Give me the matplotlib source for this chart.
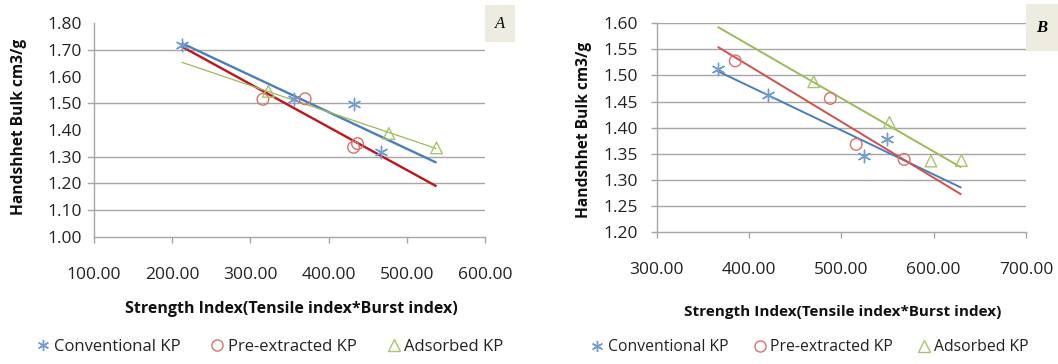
import numpy as np
import matplotlib
matplotlib.use('Agg')
import matplotlib.pyplot as plt
from matplotlib.lines import Line2D
from matplotlib.patches import Rectangle

plt.rcParams['font.family'] = ['Open Sans', 'DejaVu Sans']

# ---- data ----
series_names = ["Conventional KP", "Pre-extracted KP", "Adsorbed KP"]

conv_a_x = [212, 356, 432, 467]
conv_a_y = [1.720, 1.518, 1.497, 1.317]
pre_a_x = [316, 370, 432, 437]
pre_a_y = [1.515, 1.517, 1.335, 1.349]
ads_a_x = [323, 477, 538]
ads_a_y = [1.545, 1.387, 1.333]

conv_b_x = [366, 420, 524, 549]
conv_b_y = [1.512, 1.463, 1.346, 1.378]
pre_b_x = [385, 488, 516, 568]
pre_b_y = [1.528, 1.456, 1.368, 1.339]
ads_b_x = [470, 552, 597, 630]
ads_b_y = [1.488, 1.410, 1.336, 1.337]

xticks_a = [100, 200, 300, 400, 500, 600]
yticks_a = [1.0, 1.1, 1.2, 1.3, 1.4, 1.5, 1.6, 1.7, 1.8]
grid_a = [1.1, 1.2, 1.3, 1.5, 1.7]      # only these rules survive in the scan
xticks_b = [300, 400, 500, 600, 700]
yticks_b = [1.20, 1.25, 1.30, 1.35, 1.40, 1.45, 1.50, 1.55, 1.60]

# ---- styles ----
c_blue, c_blue_m = '#4A7EBB', '#6F9BD1'
c_red_a, c_red_b, c_red_m = '#C0141B', '#D0504D', '#D9706C'
c_green, c_green_m = '#9BBB59', '#A9C46D'
grid_c = '#A6A6A6'
asterisk = (6, 2, 0)
tick_fs = 12.5

W, H = 1058, 364
fig = plt.figure(figsize=(W / 100, H / 100), dpi=100)


def px(x0, y0, x1, y1):
    return [x0 / W, 1 - y1 / H, (x1 - x0) / W, (y1 - y0) / H]


def trend(ax, xs, ys, xr, color, lw):
    k, b = np.polyfit(xs, ys, 1)
    xx = np.array(xr)
    ax.plot(xx, k * xx + b, color=color, lw=lw, zorder=2, solid_capstyle='butt')


def setup(ax, xlim, ylim, xticks, yticks, grid_levels, ylen):
    ax.set_xlim(*xlim)
    ax.set_ylim(*ylim)
    ax.set_xticks(xticks)
    ax.set_xticklabels([f"{v:.2f}" for v in xticks])
    ax.set_yticks(yticks)
    ax.set_yticklabels([f"{v:.2f}" for v in yticks])
    for s in ['top', 'right']:
        ax.spines[s].set_visible(False)
    for s in ['left', 'bottom']:
        ax.spines[s].set_color(grid_c)
        ax.spines[s].set_linewidth(1.0)
    ax.tick_params(axis='x', length=4.5, width=1.0, color=grid_c, pad=17,
                   labelsize=tick_fs, labelcolor='#222222')
    ax.tick_params(axis='y', length=ylen, width=1.0, color=grid_c, pad=9,
                   labelsize=tick_fs, labelcolor='#222222')
    for g in grid_levels:
        ax.axhline(g, color=grid_c, lw=1.0, zorder=1)


# ---- panel A ----
axa = fig.add_axes(px(94, 23.3, 485, 236.7))
setup(axa, (100, 600), (1.0, 1.8), xticks_a, yticks_a, grid_a, 0)
for g in grid_a:
    axa.plot([-0.016, 0], [g, g], transform=axa.get_yaxis_transform(),
             color=grid_c, lw=1.0, clip_on=False)
xr_a = [min(conv_a_x + pre_a_x + ads_a_x), max(conv_a_x + pre_a_x + ads_a_x)]
trend(axa, conv_a_x, conv_a_y, xr_a, c_blue, 1.7)
trend(axa, pre_a_x, pre_a_y, xr_a, c_red_a, 1.7)
trend(axa, ads_a_x, ads_a_y, xr_a, c_green, 0.9)
axa.scatter(conv_a_x, conv_a_y, marker=asterisk, s=80, color=c_blue_m, lw=1.0, zorder=3)
axa.scatter(pre_a_x, pre_a_y, marker='o', s=70, facecolor='none', edgecolor=c_red_m, lw=1.0, zorder=3)
axa.scatter(ads_a_x, ads_a_y, marker='^', s=70, facecolor='none', edgecolor=c_green_m, lw=1.0, zorder=3)

# ---- panel B ----
axb = fig.add_axes(px(656.8, 23.3, 1026, 232))
setup(axb, (300, 700), (1.2, 1.6), xticks_b, yticks_b, yticks_b[1:], 4.5)
xr_b = [min(conv_b_x + pre_b_x + ads_b_x), max(conv_b_x + pre_b_x + ads_b_x)]
trend(axb, conv_b_x, conv_b_y, xr_b, c_blue, 1.4)
trend(axb, pre_b_x, pre_b_y, xr_b, c_red_b, 1.4)
trend(axb, ads_b_x, ads_b_y, xr_b, c_green, 1.4)
axb.scatter(conv_b_x, conv_b_y, marker=asterisk, s=80, color=c_blue_m, lw=1.0, zorder=3)
axb.scatter(pre_b_x, pre_b_y, marker='o', s=70, facecolor='none', edgecolor=c_red_m, lw=1.0, zorder=3)
axb.scatter(ads_b_x, ads_b_y, marker='^', s=70, facecolor='none', edgecolor=c_green_m, lw=1.0, zorder=3)

# ---- axis titles ----
ylab = "Handshhet Bulk cm3/g"
xlab = "Strength Index(Tensile index*Burst index)"
fig.text(18.6 / W, 1 - 127 / H, ylab, rotation=90, ha='center', va='center',
         fontsize=11.2, fontweight='bold', color='#111111')
fig.text(584 / W, 1 - 130 / H, ylab, rotation=90, ha='center', va='center',
         fontsize=11.2, fontweight='bold', color='#111111')
fig.text(291 / W, 1 - 309 / H, xlab, ha='center', va='center',
         fontsize=11.5, fontweight='bold', color='#111111')
fig.text(843 / W, 1 - 312 / H, xlab, ha='center', va='center',
         fontsize=11.0, fontweight='bold', color='#111111')

# ---- panel letters ----
for (x0, y0, x1, y1), letter, wt in [((485, 5, 515, 42), 'A', 'normal'),
                                     ((1026, 4, 1058, 51), 'B', 'bold')]:
    fig.patches.append(Rectangle((x0 / W, 1 - y1 / H), (x1 - x0) / W, (y1 - y0) / H,
                                 transform=fig.transFigure, facecolor='#EEECE1',
                                 edgecolor='none', zorder=0))
    fig.text((x0 + x1) / 2 / W, 1 - (y0 + y1) / 2 / H, letter, ha='center', va='center',
             fontsize=12, style='italic', fontweight=wt,
             family=['Liberation Serif', 'DejaVu Serif'])

# ---- legends ----
handles = [
    Line2D([], [], ls='none', marker=asterisk, ms=8, color=c_blue_m, mew=1.0),
    Line2D([], [], ls='none', marker='o', ms=8, mfc='none', mec=c_red_m, mew=1.0),
    Line2D([], [], ls='none', marker='^', ms=8, mfc='none', mec=c_green_m, mew=1.0),
]
for cx, fs, cs in ((270, 12, 1.8), (810, 11.3, 1.6)):
    fig.legend(handles, series_names, loc='center', bbox_to_anchor=(cx / W, 1 - 347 / H),
               ncol=3, frameon=False, fontsize=fs, handlelength=0.8,
               handletextpad=0.25, columnspacing=cs, labelcolor='#222222')

fig.savefig('out.png', dpi=100)
